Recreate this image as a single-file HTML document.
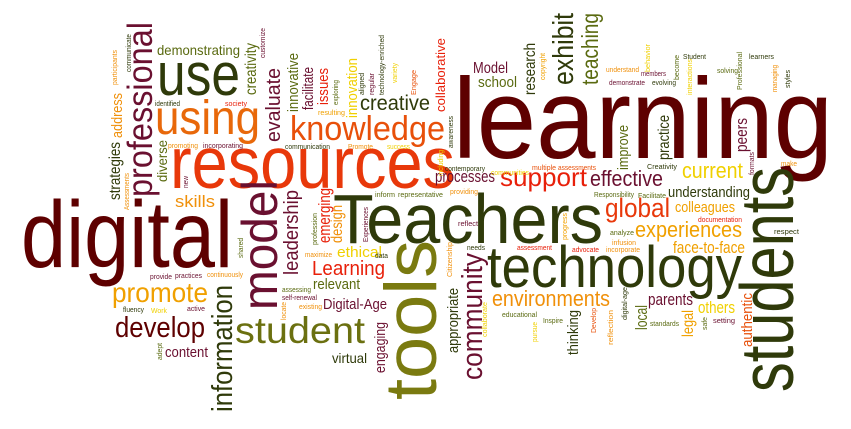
<!DOCTYPE html>
<html><head><meta charset="utf-8"><style>
html,body{margin:0;padding:0;background:#fff;}
svg{display:block;}
text{font-family:"Liberation Sans",sans-serif;}
</style></head><body>
<svg id="cloud" width="851" height="429" viewBox="0 0 851 429" xmlns="http://www.w3.org/2000/svg"></svg>
<script>
// [text, x, y, fontSize, length, color, vertical]
const words = [
["learning",453,158,114,380,"#5e0000",0],
["digital",21,267,95,212,"#5e0000",0],
["Teachers",333,243,70,270,"#2f3a0a",0],
["technology",487,287,58,255,"#2f3a0a",0],
["resources",170,188,73,285,"#e8380a",0],
["use",157,95,60,83,"#2f3a0a",0],
["using",155,134,48,105,"#e8680a",0],
["knowledge",290,140,34,155,"#e8500a",0],
["creative",360,110,21,70,"#2f3a0a",0],
["demonstrating",157,55,14,83,"#5a6a10",0],
["skills",175,207,17,40,"#f0900a",0],
["Model",473,73,16,35,"#6a1030",0],
["school",478,87,15,39,"#5a6a10",0],
["support",500,186,26,87,"#e8200a",0],
["effective",590,186,22,73,"#6a1030",0],
["processes",435,182,17,60,"#6a1030",0],
["current",682,178,22,61,"#f0d000",0],
["understanding",668,197,15,82,"#2f3a0a",0],
["global",605,217,27,65,"#e8380a",0],
["colleagues",675,212,15,60,"#f0a000",0],
["experiences",635,237,22,107,"#f0a000",0],
["face-to-face",673,253,17,72,"#f0a000",0],
["environments",492,306,22,118,"#f0900a",0],
["parents",648,305,17,45,"#6a1030",0],
["others",698,313,17,37,"#f0d000",0],
["promote",112,302,28,96,"#f0a000",0],
["develop",115,337,29,90,"#5e0000",0],
["student",235,343,37,130,"#6b7010",0],
["content",165,357,15,43,"#6a1030",0],
["Learning",312,275,20,73,"#e8200a",0],
["relevant",313,289,15,47,"#5a6a10",0],
["Digital-Age",323,309,15,64,"#6a1030",0],
["virtual",332,363,14,35,"#2f3a0a",0],
["ethical",337,257,15,45,"#f0d000",0],
["students",793,392,75,225,"#2f3a0a",1],
["tools",436,400,73,160,"#7a7a10",1],
["model",277,310,50,130,"#6a1030",1],
["professional",152,197,35,175,"#6a1030",1],
["information",232,412,29,127,"#2f3a0a",1],
["community",482,380,29,127,"#6a1030",1],
["exhibit",573,85,29,72,"#2f3a0a",1],
["teaching",598,85,23,72,"#5a6a10",1],
["evaluate",280,142,20,74,"#6a1030",1],
["creativity",256,95,16,52,"#5a6a10",1],
["innovative",298,112,15,59,"#5a6a10",1],
["facilitate",313,110,15,43,"#6a1030",1],
["issues",328,105,15,37,"#e8200a",1],
["innovation",357,118,15,60,"#f0d000",1],
["collaborative",445,112,13,74,"#e8200a",1],
["research",535,95,16,52,"#2f3a0a",1],
["address",122,138,15,45,"#f0900a",1],
["strategies",120,200,16,58,"#2f3a0a",1],
["diverse",167,182,14,42,"#5a6a10",1],
["leadership",298,275,20,85,"#6a1030",1],
["emerging",330,243,17,55,"#e8200a",1],
["design",342,243,16,38,"#f0900a",1],
["engaging",385,373,15,51,"#6a1030",1],
["appropriate",458,353,15,65,"#2f3a0a",1],
["thinking",578,355,15,45,"#2f3a0a",1],
["improve",628,170,15,45,"#5a6a10",1],
["practice",669,160,16,45,"#2f3a0a",1],
["peers",747,152,17,34,"#6a1030",1],
["local",647,330,17,25,"#5a6a10",1],
["legal",693,337,16,27,"#f0a000",1],
["authentic",752,347,15,54,"#e8500a",1],
["identified",155,106,7,25,"#2f3a0a",0],
["society",225,106,7,22,"#e8200a",0],
["promoting",168,148,7,30,"#f0900a",0],
["incorporating",203,148,7,40,"#6a1030",0],
["communication",285,149,7,45,"#2f3a0a",0],
["Promote",348,149,7,25,"#f0900a",0],
["success",387,149,7,23,"#f0d000",0],
["resulting",318,115,7,27,"#f0a000",0],
["inform",375,197,7,20,"#5a6a10",0],
["representative",398,197,7,45,"#5a6a10",0],
["contemporary",445,171,7,40,"#2f3a0a",0],
["communities",491,175,7,38,"#f0d000",0],
["multiple",532,170,7,24,"#e8500a",0],
["assessments",558,170,7,38,"#e8500a",0],
["Creativity",647,169,7,30,"#2f3a0a",0],
["make",781,166,7,16,"#f0900a",0],
["providing",450,194,7,28,"#f0900a",0],
["Responsibility",594,197,7,40,"#5a6a10",0],
["Facilitate",638,198,7,28,"#5a6a10",0],
["understand",606,72,7,33,"#f0900a",0],
["members",641,76,7,25,"#6a1030",0],
["demonstrate",609,85,7,36,"#6a1030",0],
["evolving",652,85,7,24,"#2f3a0a",0],
["Student",683,59,7,23,"#2f3a0a",0],
["solving",717,73,7,21,"#5a6a10",0],
["learners",749,59,7,25,"#2f3a0a",0],
["reflect",458,226,7,20,"#6a1030",0],
["needs",467,250,7,18,"#2f3a0a",0],
["assessment",517,250,7,35,"#e8200a",0],
["advocate",572,252,7,27,"#e8200a",0],
["incorporate",606,252,7,34,"#f0900a",0],
["infusion",612,245,7,24,"#f0900a",0],
["analyze",610,235,7,24,"#5a6a10",0],
["documentation",698,222,7,44,"#e8200a",0],
["respect",774,234,7,25,"#2f3a0a",0],
["educational",502,317,7,35,"#5a6a10",0],
["Inspire",543,323,7,20,"#5a6a10",0],
["standards",650,326,7,29,"#5a6a10",0],
["setting",713,323,7,22,"#6a1030",0],
["provide",150,279,7,22,"#6a1030",0],
["practices",175,278,7,27,"#6a1030",0],
["continuously",207,277,7,36,"#f0900a",0],
["fluency",123,312,7,21,"#2f3a0a",0],
["Work",151,313,7,16,"#f0d000",0],
["active",187,311,7,18,"#6a1030",0],
["maximize",305,257,7,27,"#f0900a",0],
["data",375,258,7,13,"#2f3a0a",0],
["assessing",282,292,7,29,"#5a6a10",0],
["self-renewal",282,300,7,35,"#6a1030",0],
["existing",299,309,7,23,"#f0900a",0],
["communicate",131,72,7,38,"#2f3a0a",1],
["participants",117,85,7,35,"#f0900a",1],
["customize",265,58,7,30,"#6a1030",1],
["exploring",338,105,7,25,"#5a6a10",1],
["aligned",364,95,7,22,"#2f3a0a",1],
["regular",374,95,7,22,"#6a1030",1],
["technology-enriched",384,95,7,60,"#2f3a0a",1],
["variety",397,83,7,20,"#f0d000",1],
["Engage",416,95,7,25,"#e8500a",1],
["Assessments",129,210,7,37,"#f0900a",1],
["new",188,188,7,12,"#6a1030",1],
["copyright",545,80,7,27,"#f0a000",1],
["behavior",650,72,7,28,"#f0d000",1],
["become",679,80,7,25,"#5a6a10",1],
["interactions",692,95,7,36,"#f0d000",1],
["Professional",742,90,7,38,"#5a6a10",1],
["managing",777,92,7,27,"#f0900a",1],
["styles",790,88,7,18,"#2f3a0a",1],
["awareness",453,148,7,32,"#2f3a0a",1],
["including",443,176,7,26,"#f0d000",1],
["formats",754,175,7,23,"#6a1030",1],
["Citizenship",452,277,7,35,"#f0900a",1],
["collaborate",487,337,7,35,"#f0d000",1],
["pursue",537,342,7,20,"#f0d000",1],
["Develop",596,333,7,25,"#e8500a",1],
["reflection",613,345,7,35,"#f0900a",1],
["digital-age",627,320,7,33,"#2f3a0a",1],
["safe",707,330,7,13,"#5a6a10",1],
["shared",243,258,7,20,"#5a6a10",1],
["profession",317,245,7,32,"#5a6a10",1],
["Experiences",368,242,7,35,"#6a1030",1],
["progress",567,240,7,27,"#f0a000",1],
["locate",286,320,7,18,"#f0900a",1],
["adept",162,360,7,17,"#5a6a10",1]
];
const svg = document.getElementById('cloud');
const NS = 'http://www.w3.org/2000/svg';
words.forEach(w => {
  const t = document.createElementNS(NS, 'text');
  
  
  t.setAttribute('x', 0);
  t.setAttribute('y', 0);
  t.setAttribute('font-size', w[3]);
  t.setAttribute('fill', w[5]);
  t.setAttribute('textLength', w[4]);
  t.setAttribute('lengthAdjust', 'spacingAndGlyphs');
  t.setAttribute('transform', 'translate(' + w[1] + ',' + w[2] + ')' + (w[6] ? ' rotate(-90)' : ''));
  t.textContent = w[0];
  svg.appendChild(t);
});
</script>
</body></html>
